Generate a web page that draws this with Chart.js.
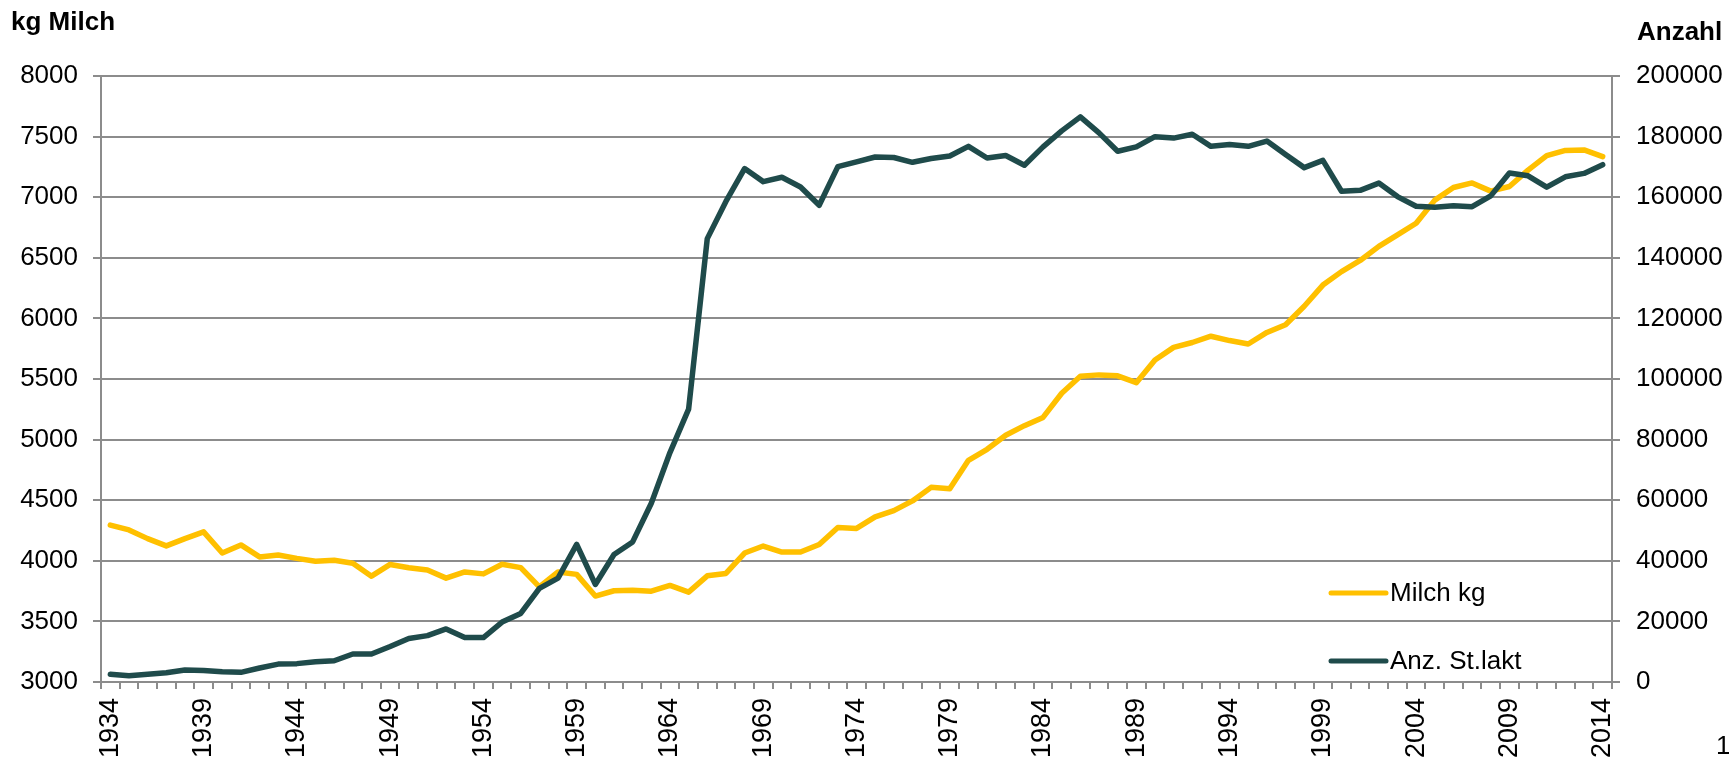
<!DOCTYPE html>
<html>
<head>
<meta charset="utf-8">
<script src="https://cdn.jsdelivr.net/npm/chart.js@4.4.1/dist/chart.umd.min.js"></script>
<style>
    html, body { margin: 0; padding: 0; background: #fff; }
    #chart { display: block; }
</style>
</head>
<body>
<canvas id="chart" width="1729" height="758"></canvas>
<script>
const years = [];
for (let y = 1934; y <= 2014; y++) years.push(String(y));

const milchKg = [
    4295, 4255, 4183, 4123, 4183, 4239, 4064, 4131, 4032, 4048,
    4020, 3996, 4004, 3980, 3873, 3970, 3942, 3924, 3857, 3908,
    3892, 3972, 3944, 3785, 3908, 3888, 3709, 3753, 3757, 3749,
    3797, 3741, 3876, 3896, 4064, 4122, 4072, 4072, 4135, 4275,
    4267, 4363, 4414, 4494, 4606, 4594, 4829, 4920, 5036, 5115,
    5183, 5382, 5522, 5534, 5526, 5470, 5657, 5761, 5801, 5853,
    5817, 5789, 5884, 5948, 6100, 6275, 6386, 6478, 6594, 6689,
    6785, 6976, 7080, 7118, 7050, 7088, 7223, 7343, 7386, 7390,
    7335
];

const anzStLakt = [
    2550, 2070, 2550, 3030, 3990, 3830, 3350, 3190, 4620, 5900,
    6060, 6700, 7010, 9250, 9250, 11700, 14350, 15300, 17530, 14670,
    14670, 19770, 22630, 30920, 34270, 45430, 32200, 42080, 46230, 58980,
    75720, 90060, 146330, 158600, 169440, 165140, 166570, 163380, 157330, 170080,
    171680, 173270, 173110, 171520, 172790, 173590, 176780, 172950, 173750, 170560,
    176620, 181880, 186500, 181240, 175180, 176620, 179970, 179500, 180770, 176780,
    177420, 176780, 178530, 174070, 169760, 172150, 161950, 162270, 164660, 160200,
    157010, 156690, 157170, 156850, 160440, 168010, 167050, 163300, 166730, 167850,
    170720
];

const seriesNames = ['Milch kg', 'Anz. St.lakt'];
const seriesColors = ['#FFC000', '#1F4B4B'];

const gridColor = '#8C8C8C';
const fontFamily = '"Liberation Sans", Arial, sans-serif';

// legend, axis titles and the stray page number drawn by hand
const extras = {
    id: 'extras',
    afterDraw(chart) {
        const c = chart.ctx;
        const area = chart.chartArea;
        c.save();
        c.fillStyle = '#000';
        c.textBaseline = 'alphabetic';
        c.font = 'bold 26px ' + fontFamily;
        c.textAlign = 'left';
        c.fillText('kg Milch', 11, 30);
        c.fillText('Anzahl', 1637, 40);

        c.font = '26px ' + fontFamily;
        c.fillText('1', 1716, 754);

        const lx = area.right - 281;
        const rows = [593, 661];
        seriesNames.forEach((name, i) => {
            c.strokeStyle = seriesColors[i];
            c.lineWidth = 5;
            c.lineCap = 'round';
            c.beginPath();
            c.moveTo(lx, rows[i]);
            c.lineTo(lx + 55, rows[i]);
            c.stroke();
            c.fillStyle = '#000';
            c.textBaseline = 'middle';
            c.fillText(name, lx + 59, rows[i] + 1);
        });
        c.restore();
    }
};

new Chart(document.getElementById('chart'), {
    type: 'line',
    data: {
        labels: years,
        datasets: [
            {
                label: seriesNames[0],
                data: milchKg,
                yAxisID: 'y',
                borderColor: seriesColors[0],
                borderWidth: 5.5,
                pointRadius: 0,
                tension: 0,
                borderCapStyle: 'round',
                borderJoinStyle: 'round',
                order: 2
            },
            {
                label: seriesNames[1],
                data: anzStLakt,
                yAxisID: 'y1',
                borderColor: seriesColors[1],
                borderWidth: 5.5,
                pointRadius: 0,
                tension: 0,
                borderCapStyle: 'round',
                borderJoinStyle: 'round',
                order: 1
            }
        ]
    },
    options: {
        responsive: false,
        animation: false,
        layout: { padding: { top: 76, left: 0, right: 0, bottom: 0 } },
        plugins: {
            legend: { display: false },
            tooltip: { enabled: false }
        },
        scales: {
            x: {
                offset: true,
                grid: {
                    offset: true,
                    drawOnChartArea: false,
                    drawTicks: true,
                    tickLength: 7,
                    color: gridColor,
                    lineWidth: 2
                },
                border: { color: gridColor, width: 2 },
                ticks: {
                    autoSkip: false,
                    minRotation: 90,
                    maxRotation: 90,
                    padding: 9,
                    color: '#000',
                    font: { family: fontFamily, size: 27 },
                    callback: function (val, i) {
                        return (i % 5 === 0) ? this.getLabelForValue(val) : '';
                    }
                },
                afterFit: s => { s.height = 76; }
            },
            y: {
                position: 'left',
                min: 3000,
                max: 8000,
                grid: {
                    color: gridColor,
                    lineWidth: 2,
                    tickLength: 8
                },
                border: { color: gridColor, width: 2 },
                ticks: {
                    stepSize: 500,
                    padding: 15,
                    color: '#000',
                    font: { family: fontFamily, size: 26 },
                    callback: v => String(v)
                },
                afterFit: s => { s.width = 101; }
            },
            y1: {
                position: 'right',
                min: 0,
                max: 200000,
                grid: {
                    drawOnChartArea: false,
                    color: gridColor,
                    lineWidth: 2,
                    tickLength: 8
                },
                border: { color: gridColor, width: 2 },
                ticks: {
                    stepSize: 20000,
                    padding: 16,
                    color: '#000',
                    font: { family: fontFamily, size: 26 },
                    callback: v => String(v)
                },
                afterFit: s => { s.width = 117; }
            }
        }
    },
    plugins: [extras]
});
</script>
</body>
</html>
